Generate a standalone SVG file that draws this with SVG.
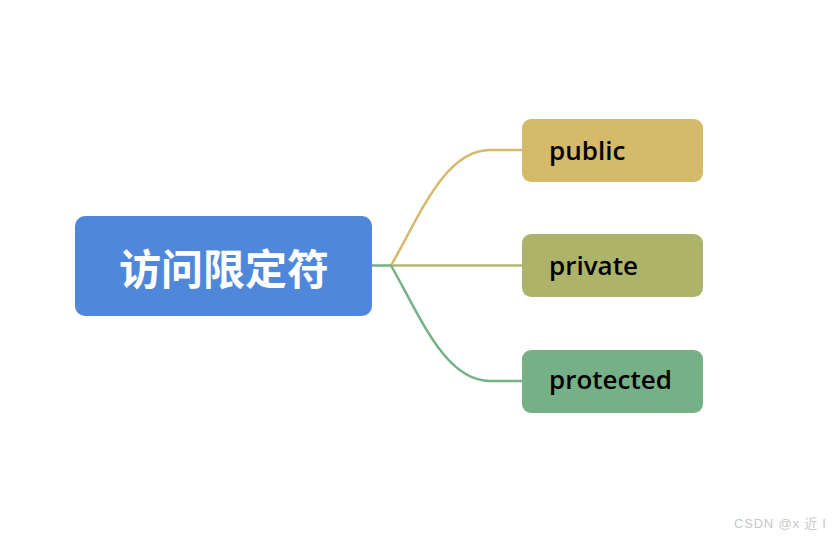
<svg xmlns="http://www.w3.org/2000/svg" width="835" height="539" viewBox="0 0 835 539">
<style>
.conn{fill:none;stroke-width:2.5;stroke-linecap:round}
.child text{font-family:"Open Sans","Noto Sans",sans-serif;font-size:26px;font-weight:600;fill:#000}
.root text{font-family:"Noto Sans CJK SC",sans-serif;font-size:42px;font-weight:bold;fill:#fff}
</style>
<rect width="835" height="539" fill="#fff"/>
<g id="connectors">
<path class="conn" d="M372,265.5 H391" stroke="#76b086"/>
<path class="conn" d="M391,265.5 C420,215 445,150 490,150 H522" stroke="#d4ba6a"/>
<path class="conn" d="M391,265.5 H522" stroke="#b3b877"/>
<path class="conn" d="M391,265.5 C420,316 445,381 490,381 H522" stroke="#76b086"/>
</g>
<g id="root" class="root">
<rect x="75" y="216" width="297" height="100" rx="10" fill="#4f88db"/>
<text x="224" y="285" text-anchor="middle">访问限定符</text>
</g>
<g id="public" class="child">
<rect x="522" y="119" width="181" height="63" rx="9" fill="#d4ba6a"/>
<text x="549" y="160">public</text>
</g>
<g id="private" class="child">
<rect x="522" y="234" width="181" height="63" rx="9" fill="#adb46a"/>
<text x="549" y="275">private</text>
</g>
<g id="protected" class="child">
<rect x="522" y="350" width="181" height="63" rx="9" fill="#76b086"/>
<text x="549" y="389">protected</text>
</g>
<text x="734" y="528" font-family="'Liberation Sans','Noto Sans CJK SC',sans-serif" font-size="13" letter-spacing="0.8" fill="#c8c8c8">CSDN @x 近 I</text>
</svg>
